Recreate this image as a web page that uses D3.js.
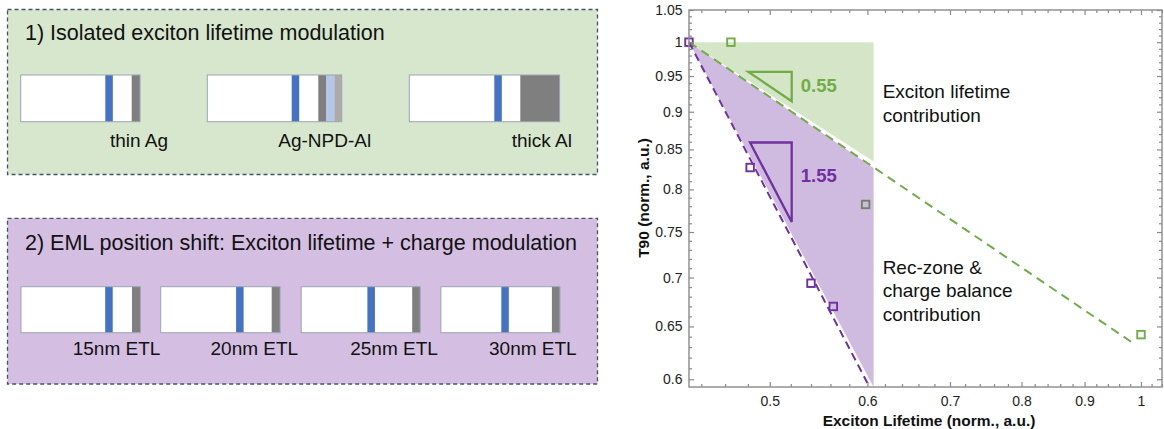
<!DOCTYPE html>
<html><head><meta charset="utf-8">
<script src="https://cdn.jsdelivr.net/npm/d3@7"></script>
<style>
html,body{margin:0;padding:0;background:#fff;}
svg{display:block;font-family:"Liberation Sans",Arial,Helvetica,sans-serif;}
</style></head><body>
<svg id="fig" width="1164" height="429"></svg>
<script>
// ---- measured data: normalized exciton lifetime vs normalized T90 ----
const isoLifetime = [0.465, 0.598, 1.0];          // isolated exciton-lifetime devices
const isoT90      = [1.0, 0.782, 0.642];
const emlLifetime = [0.43, 0.482, 0.540, 0.563];  // EML position shift devices
const emlT90      = [1.0, 0.827, 0.694, 0.670];

// power-law fits T90 ~ tau^-k, anchored at the reference device
const fitAnchor = [0.43, 1.0];
const fitSlopes = [0.55, 1.55];
const fitEnds   = [0.989, 0.600];
const slopeLabels = ["0.55", "1.55"];
const slopeLabelY = [0.937, 0.8176];

// shaded contribution wedges
const wedgeEdge  = 0.607;
const wedgeSplit = [0.525, 0.553];   // exciton wedge lower edge / rec-zone wedge upper edge
const wedgeFloor = 0.593;

// slope triangles
const triLeft  = [0.4804, 0.4819];
const triRight = [0.5209, 0.5209];
const triTop   = [0.956, 0.859];

// axis ticks
const xTickValues = [0.5, 0.6, 0.7, 0.8, 0.9, 1];
const xTickLabels = ["0.5", "0.6", "0.7", "0.8", "0.9", "1"];
const yTickValues = [0.6, 0.65, 0.7, 0.75, 0.8, 0.85, 0.9, 0.95, 1, 1.05];
const yTickLabels = ["0.6", "0.65", "0.7", "0.75", "0.8", "0.85", "0.9", "0.95", "1", "1.05"];

// device stacks (schematic units)
const isoNames   = ["thin Ag", "Ag-NPD-Al", "thick Al"];
const isoEml     = [84.6, 84.4, 85];
const isoCathode = [[8.3], [7.7, 8.3, 7.4], [39.3]];
const emlNames   = ["15nm ETL", "20nm ETL", "25nm ETL", "30nm ETL"];
const emlPos     = [84.2, 75.4, 66.2, 60.4];
const emlCathode = [[8.4], [8.4], [8], [8]];
const organicLen = 111;
const emlWidth   = 7.5;

// ---- styles ----
const GREEN = "#70ad47", PURPLE = "#7030a0";
const BLUE = "#4472c4";
const cathodeColors = ["#7f7f7f", "#b4c7e7", "#aeaaaa"];

const svg = d3.select("#fig");

// ================= left: device schematics =================
const panels = [
  {x: 7.5, y: 9.5, w: 590, h: 165, fill: "#d7e7cd",
   title: "1) Isolated exciton lifetime modulation", titleY: 39.5,
   names: isoNames, eml: isoEml, cath: isoCathode,
   devX: [20.7, 207.3, 409.3], barY: 75, barH: 46.7,
   labelX: [110, 278.3, 511.7], labelY: 146.5},
  {x: 7.5, y: 218.3, w: 590, h: 165.7, fill: "#d4bfe2",
   title: "2) EML position shift: Exciton lifetime + charge modulation", titleY: 250,
   names: emlNames, eml: emlPos, cath: emlCathode,
   devX: [21, 160.7, 301.2, 440.9], barY: 286.7, barH: 46,
   labelX: [72.7, 210.5, 350.2, 489], labelY: 355}
];

const u = d3.scaleLinear().domain([0, 100]).range([0, 100]);

panels.forEach(p => {
  const g = svg.append("g");
  g.append("rect").attr("x", p.x).attr("y", p.y).attr("width", p.w).attr("height", p.h)
    .attr("fill", p.fill).attr("stroke", "#44546a").attr("stroke-width", 1.3)
    .attr("stroke-dasharray", "4 3");
  g.append("text").attr("x", 25).attr("y", p.titleY).attr("font-size", 21.5)
    .attr("fill", "#111").text(p.title);
  p.names.forEach((name, i) => {
    const x0 = p.devX[i];
    const cath = p.cath[i];
    const total = organicLen + d3.sum(cath);
    const dev = g.append("g").attr("transform", `translate(${x0},${p.barY})`);
    dev.append("rect").attr("x", 0).attr("y", 0).attr("width", u(total)).attr("height", p.barH)
      .attr("fill", "#fff");
    dev.append("rect").attr("x", u(p.eml[i])).attr("y", 0).attr("width", u(emlWidth))
      .attr("height", p.barH).attr("fill", BLUE);
    let cx = organicLen;
    cath.forEach((w, j) => {
      dev.append("rect").attr("x", u(cx)).attr("y", 0).attr("width", u(w)).attr("height", p.barH)
        .attr("fill", cathodeColors[j]);
      cx += w;
    });
    dev.append("rect").attr("x", 0).attr("y", 0).attr("width", u(total)).attr("height", p.barH)
      .attr("fill", "none").attr("stroke", "#9aa3b5").attr("stroke-width", 1);
    g.append("text").attr("x", p.labelX[i]).attr("y", p.labelY).attr("font-size", 19)
      .attr("fill", "#111").text(name);
  });
});

// ================= right: T90 vs exciton lifetime (log-log) =================
const x = d3.scaleLog().domain([0.43, 1.04]).range([689, 1162]);
const y = d3.scaleLog().domain([wedgeFloor, 1.05]).range([387, 10]);
const plot = svg.append("g");

const fitY = (xv, k) => fitAnchor[1] * Math.pow(xv / fitAnchor[0], -k);

// markers (drawn first so the translucent wedges tint them)
const sq = 7.5;
function squares(xs, ys, color) {
  plot.append("g").selectAll("rect").data(xs).join("rect")
    .attr("x", (d) => x(d) - sq / 2).attr("y", (d, i) => y(ys[i]) - sq / 2)
    .attr("width", sq).attr("height", sq)
    .attr("fill", "none").attr("stroke", color).attr("stroke-width", 1.9);
}
squares(isoLifetime, isoT90, GREEN);
squares(emlLifetime, emlT90, PURPLE);

// wedges
const poly = d3.line().x(d => x(d[0])).y(d => y(d[1]));
plot.append("path")
  .attr("d", poly([fitAnchor, [wedgeEdge, 1.0], [wedgeEdge, fitY(wedgeEdge, wedgeSplit[0])]]) + "Z")
  .attr("fill", GREEN).attr("fill-opacity", 0.3);
plot.append("path")
  .attr("d", poly([fitAnchor, [wedgeEdge, fitY(wedgeEdge, wedgeSplit[1])], [wedgeEdge, wedgeFloor]]) + "Z")
  .attr("fill", PURPLE).attr("fill-opacity", 0.33);

// dashed fit lines
const fitColors = [GREEN, PURPLE];
const fitDash = ["9 6", "8 5"];
fitSlopes.forEach((k, i) => {
  plot.append("path")
    .attr("d", poly([fitAnchor, [fitEnds[i], fitY(fitEnds[i], k)]]))
    .attr("fill", "none").attr("stroke", fitColors[i]).attr("stroke-width", 2)
    .attr("stroke-dasharray", fitDash[i]);
});

// slope triangles + labels
fitSlopes.forEach((k, i) => {
  const xl = triLeft[i], xr = triRight[i], yt = triTop[i];
  const yb = yt * Math.pow(xr / xl, -k);
  plot.append("path").attr("d", poly([[xl, yt], [xr, yt], [xr, yb]]) + "Z")
    .attr("fill", "none").attr("stroke", fitColors[i]).attr("stroke-width", 2.3)
    .attr("stroke-linejoin", "miter");
  plot.append("text").attr("x", x(xr) + 9).attr("y", y(slopeLabelY[i])).attr("dy", "0.36em")
    .attr("font-size", 18.5).attr("font-weight", "bold").attr("fill", fitColors[i])
    .text(slopeLabels[i]);
});

// wedge annotations
const annX = x(wedgeEdge) + 9;
const ann = [
  {lines: ["Exciton lifetime", "contribution"], y0: 98.3},
  {lines: ["Rec-zone &", "charge balance", "contribution"], y0: 274}
];
ann.forEach(a => {
  a.lines.forEach((t, j) => {
    plot.append("text").attr("x", annX).attr("y", a.y0 + j * 23.4)
      .attr("font-size", 19).attr("fill", "#111").text(t);
  });
});

// axes: ticks inward on all four sides
const AX = "#8a8a8a";
const xMinor = d3.range(22, 53).filter(i => i % 5 !== 0).map(i => i / 50);
const yMinor = d3.range(60, 106).filter(i => i % 5 !== 0).map(i => i / 100);
const fmtX = d => xTickLabels[xTickValues.indexOf(d)];
const fmtY = d => yTickLabels[yTickValues.indexOf(d)];

function styleAxis(g) {
  g.select(".domain").remove();
  g.selectAll(".tick line").attr("stroke", AX).attr("stroke-width", 1.2);
  g.selectAll(".tick text").attr("fill", "#222").attr("font-size", 14)
    .attr("font-family", '"Liberation Sans", Arial, Helvetica, sans-serif');
}
// bottom
plot.append("g").attr("transform", "translate(0,387)")
  .call(d3.axisBottom(x).tickValues(xTickValues).tickFormat(fmtX).tickSize(-5).tickPadding(9.5)).call(styleAxis);
plot.append("g").attr("transform", "translate(0,387)")
  .call(d3.axisBottom(x).tickValues(xMinor).tickFormat("").tickSize(-3)).call(styleAxis);
// top
plot.append("g").attr("transform", "translate(0,10)")
  .call(d3.axisTop(x).tickValues(xTickValues).tickFormat("").tickSize(-5)).call(styleAxis);
plot.append("g").attr("transform", "translate(0,10)")
  .call(d3.axisTop(x).tickValues(xMinor).tickFormat("").tickSize(-3)).call(styleAxis);
// left
plot.append("g").attr("transform", "translate(689,0)")
  .call(d3.axisLeft(y).tickValues(yTickValues).tickFormat(fmtY).tickSize(-5).tickPadding(6.5)).call(styleAxis);
plot.append("g").attr("transform", "translate(689,0)")
  .call(d3.axisLeft(y).tickValues(yMinor).tickFormat("").tickSize(-3)).call(styleAxis);
// right
plot.append("g").attr("transform", "translate(1162,0)")
  .call(d3.axisRight(y).tickValues(yTickValues).tickFormat("").tickSize(-5)).call(styleAxis);
plot.append("g").attr("transform", "translate(1162,0)")
  .call(d3.axisRight(y).tickValues(yMinor).tickFormat("").tickSize(-3)).call(styleAxis);

// frame
plot.append("rect").attr("x", 689).attr("y", 10).attr("width", 473).attr("height", 377)
  .attr("fill", "none").attr("stroke", AX).attr("stroke-width", 1.4);

// axis titles
plot.append("text").attr("x", 929).attr("y", 426).attr("text-anchor", "middle")
  .attr("font-size", 15.5).attr("font-weight", "bold").attr("fill", "#111")
  .text("Exciton Lifetime (norm., a.u.)");
plot.append("text").attr("transform", "translate(649,198) rotate(-90)").attr("text-anchor", "middle")
  .attr("font-size", 15.5).attr("font-weight", "bold").attr("fill", "#111")
  .text("T90 (norm., a.u.)");
</script>
</body></html>
